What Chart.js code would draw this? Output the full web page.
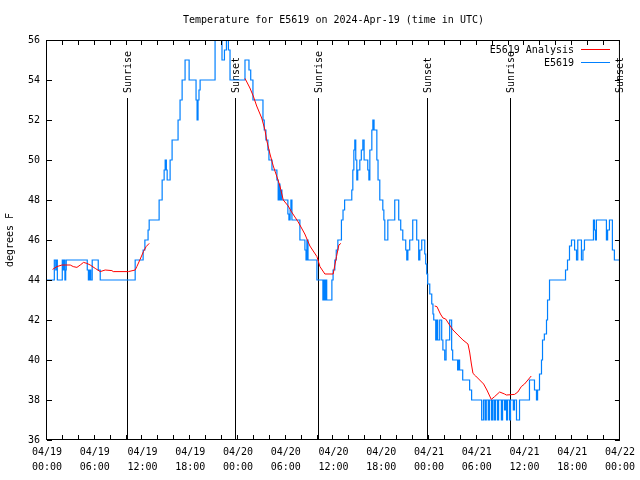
<!DOCTYPE html>
<html>
<head>
<meta charset="utf-8">
<script src="https://cdn.jsdelivr.net/npm/chart.js"></script>
<style>
  html, body { margin: 0; padding: 0; background: #fff; }
  canvas { display: block; }
</style>
</head>
<body>
<canvas id="temp-chart" width="640" height="480"></canvas>
<script>
const MONO = '"DejaVu Sans Mono", "Liberation Mono", monospace';

// time axis is hours since 04/19 00:00 UTC
const xTickLabels = [
  ['04/19', '00:00'], ['04/19', '06:00'], ['04/19', '12:00'], ['04/19', '18:00'],
  ['04/20', '00:00'], ['04/20', '06:00'], ['04/20', '12:00'], ['04/20', '18:00'],
  ['04/21', '00:00'], ['04/21', '06:00'], ['04/21', '12:00'], ['04/21', '18:00'],
  ['04/22', '00:00']
];

const sunTimes = [10.11, 23.66, 34.08, 47.75, 58.17, 71.84];
const sunLabels = ['Sunrise', 'Sunset', 'Sunrise', 'Sunset', 'Sunrise', 'Sunset'];

// E5619 station readings (value holds from each time to the next)
const sensorTimes = [
  0, 0.92, 1.1, 1.2, 1.3, 1.92, 2.05, 2.15, 2.25, 2.35, 2.42, 5.06, 5.2, 5.35, 5.5, 5.68, 6.44, 6.69,
  11.08, 12.08, 12.3, 12.7, 12.84, 14.09, 14.47, 14.72, 14.85, 15.0, 15.1, 15.47, 15.72, 16.47, 16.72,
  16.98, 17.35, 17.86, 18.73, 18.86, 18.98, 19.1, 19.24, 21.12, 21.99, 22.3, 22.55, 22.8, 23.0,
  24.88, 25.38, 25.6, 25.88, 27.14, 27.3, 27.51, 27.76, 27.89, 28.27, 28.89, 29.05, 29.14, 29.27,
  29.4, 29.52, 30.27, 30.4, 30.55, 30.65, 30.78, 31.78, 32.41, 32.55, 32.66, 32.8, 33.92, 34.67,
  34.8, 34.92, 35.05, 35.15, 35.8, 35.95, 36.17, 36.35, 36.55, 37.0, 37.2, 37.4, 38.3, 38.43, 38.56,
  38.68, 38.8, 38.93, 39.05, 39.31, 39.5, 39.69, 39.85, 40.31, 40.45, 40.57, 40.82, 40.95, 41.1,
  41.45, 41.6, 41.82, 42.2, 42.33, 42.45, 42.83, 43.7, 44.2, 44.45, 44.71, 45.08, 45.21, 45.35,
  45.58, 45.96, 46.46, 46.71, 46.85, 47.09, 47.47, 47.59, 47.72, 47.84, 48.1, 48.35, 48.5, 48.6,
  48.85, 49.0, 49.1, 49.35, 49.6, 49.75, 49.98, 50.15, 50.6, 50.85, 50.98, 51.6, 51.73, 51.85,
  52.24, 53.11, 53.36, 54.62, 54.85, 55.05, 55.2, 55.45, 55.6, 55.85, 56.0, 56.2, 56.35, 56.6,
  56.75, 57.1, 57.25, 57.5, 57.6, 57.75, 57.88, 58.13, 58.25, 58.6, 58.75,
  59.0, 59.38, 60.63, 61.26, 61.51, 61.65, 61.89, 62.14, 62.27, 62.5, 62.77, 62.9, 63.15, 65.16,
  65.41, 65.66, 65.91, 66.3, 66.54, 66.7, 67.16, 67.35, 67.54, 68.67, 68.8, 68.92, 69.04, 70.17,
  70.3, 70.45, 70.68, 71.05, 71.3, 71.93
];
const sensorTemps = [
  44, 45, 44.5, 45, 44, 45, 44.5, 45, 44, 44.5, 45, 44.5, 44, 44.5, 44, 45, 44.5, 44,
  45, 45.5, 46, 46.5, 47, 48, 49, 49.5, 50, 49.5, 49, 50, 51, 52, 53,
  54, 55, 54, 53, 52, 53, 53.5, 54, 57, 55, 55.5, 57, 55.5, 54,
  55, 54.5, 54, 53, 52, 51.5, 51, 50.5, 50, 49.5, 49, 48, 48.8, 48,
  48.5, 48, 47.3, 47, 47.5, 48, 47, 46, 45.5, 45, 46, 45, 44, 43,
  44, 43, 44, 43, 44, 44.5, 45, 45.5, 46, 47, 47.5, 48, 48.5, 49.5, 50.5,
  51, 50, 49, 49.5, 50, 50.5, 51, 50, 49.5, 49, 50.5, 51.5, 52, 51.5,
  50, 49, 48, 47.5, 47, 46, 47, 48, 47, 46.5, 46, 45.5, 45, 45.5,
  46, 47, 46, 45, 45.5, 46, 45.3, 44.8, 44.3, 43.8, 43.3, 42.8, 42.3, 42,
  41, 42, 41, 42, 41, 40.5, 40, 41, 42, 40.5, 40, 39.5, 40, 39.5,
  39, 38.5, 38, 37, 38, 37, 38, 37, 38, 37, 38, 37, 38, 37,
  38, 37, 38, 37.5, 38, 37, 38, 37, 38, 37.5, 38,
  37, 38, 39, 38.5, 38, 38.5, 39.3, 40, 41, 41.3, 42, 43, 44, 44.5,
  45, 45.7, 46, 45.5, 45, 46, 45, 45.5, 46, 47, 46.5, 46, 47, 47,
  46, 46.5, 47, 45.5, 45, 45
];

// E5619 Analysis (null = no analysis during that stretch)
const analysisTimes = [
  0.7, 1.25, 1.88, 2.92, 3.3, 3.76, 4.18, 4.59, 5.02, 5.43, 6.06, 6.69, 7.31, 8.16, 8.32, 10.24,
  11.08, 11.29, 11.7, 12.12, 12.46, 12.84,
  18,
  24.88, 25.5, 25.92, 26.35, 26.98, 27.39, 27.6, 28.02, 28.43, 28.86, 29.27, 29.69, 30.31, 30.74,
  31.57, 32.4, 33.04, 33.92, 34.3, 34.92, 35.96, 36.38, 36.68, 36.93,
  42,
  48.72, 49.0, 49.44, 49.76, 50.1, 50.51, 51.02, 51.64, 52.27, 52.9, 53.11, 53.33, 53.53, 53.87,
  54.37, 54.87, 55.28, 55.83, 56.25, 56.88, 57.5, 57.72, 58.76, 59.17, 59.6, 60.01, 60.43, 60.85
];
const analysisTemps = [
  44.53, 44.67, 44.75, 44.75, 44.67, 44.63, 44.75, 44.88, 44.83, 44.75, 44.58, 44.42, 44.5, 44.47, 44.42, 44.42,
  44.5, 44.67, 45.03, 45.42, 45.67, 45.83,
  null,
  54.08, 53.6, 53.2, 52.7, 52.1, 51.5, 51, 50.3, 49.7, 49.2, 48.7, 48, 47.7, 47.4,
  46.9, 46.3, 45.7, 45.17, 44.67, 44.3, 44.3, 45.17, 45.75, 45.83,
  null,
  42.7, 42.67, 42.3, 42.1, 42.05, 41.8, 41.5, 41.25, 41, 40.8, 40.4, 39.8, 39.33, 39.2,
  39, 38.8, 38.5, 38.03, 38.17, 38.4, 38.3, 38.25, 38.28, 38.4, 38.67, 38.8, 39, 39.2
];

const yTicks = [36, 38, 40, 42, 44, 46, 48, 50, 52, 54, 56];

const gnuplotFrame = {
  id: 'gnuplotFrame',
  beforeDatasetsDraw(chart) {
    const { ctx, chartArea: a, scales: { x } } = chart;
    ctx.save();
    ctx.strokeStyle = '#000';
    ctx.fillStyle = '#000';
    ctx.lineWidth = 1;
    ctx.font = '10px ' + MONO;
    sunTimes.forEach((t, i) => {
      const px = Math.round(x.getPixelForValue(t)) + 0.5;
      ctx.beginPath();
      ctx.moveTo(px, a.top + 58);
      ctx.lineTo(px, a.bottom);
      ctx.stroke();
      ctx.save();
      ctx.translate(px + 1, a.top + 53);
      ctx.rotate(-Math.PI / 2);
      ctx.textAlign = 'left';
      ctx.textBaseline = 'middle';
      ctx.fillText(sunLabels[i], 0, 0);
      ctx.restore();
    });
    ctx.restore();
  },
  afterDraw(chart) {
    const { ctx, chartArea: a, scales: { x, y } } = chart;
    ctx.save();
    ctx.strokeStyle = '#000';
    ctx.lineWidth = 1;
    ctx.strokeRect(a.left - 0.5, a.top + 0.5, a.right - a.left, a.bottom - a.top - 1);

    // inward ticks on all four sides
    ctx.beginPath();
    x.ticks.forEach(t => {
      const px = Math.round(x.getPixelForValue(t.value)) - 0.5;
      ctx.moveTo(px, a.bottom); ctx.lineTo(px, a.bottom - 5);
      ctx.moveTo(px, a.top); ctx.lineTo(px, a.top + 5);
    });
    y.ticks.forEach(t => {
      const py = Math.round(y.getPixelForValue(t.value)) + 0.5;
      ctx.moveTo(a.left, py); ctx.lineTo(a.left + 5, py);
      ctx.moveTo(a.right, py); ctx.lineTo(a.right - 5, py);
    });
    ctx.stroke();

    ctx.fillStyle = '#000';
    ctx.font = '10px ' + MONO;
    ctx.textAlign = 'center';
    ctx.textBaseline = 'middle';
    ctx.fillText('Temperature for E5619 on 2024-Apr-19 (time in UTC)', (a.left + a.right) / 2, 20);

    // key in the top right corner
    ctx.textAlign = 'right';
    chart.data.datasets.forEach((ds, i) => {
      const ly = 49.5 + i * 13;
      ctx.fillStyle = '#000';
      ctx.fillText(ds.label, 574, ly + 1);
      ctx.strokeStyle = ds.borderColor;
      ctx.beginPath();
      ctx.moveTo(581, ly);
      ctx.lineTo(610, ly);
      ctx.stroke();
    });
    ctx.restore();
  }
};

new Chart(document.getElementById('temp-chart'), {
  type: 'line',
  data: {
    datasets: [{
      label: 'E5619 Analysis',
      data: analysisTimes.map((t, i) => ({ x: t, y: analysisTemps[i] })),
      borderColor: '#ff0000',
      borderWidth: 1,
      pointRadius: 0,
      spanGaps: false
    }, {
      label: 'E5619',
      data: sensorTimes.map((t, i) => ({ x: t, y: sensorTemps[i] })),
      borderColor: '#0080ff',
      borderWidth: 1.2,
      pointRadius: 0,
      stepped: 'before'
    }]
  },
  options: {
    responsive: false,
    animation: false,
    events: [],
    layout: { padding: { top: 40, right: 19, bottom: 0, left: 0 } },
    plugins: {
      legend: { display: false },
      title: { display: false },
      tooltip: { enabled: false }
    },
    scales: {
      x: {
        type: 'linear',
        min: 0,
        max: 72,
        afterFit: s => { s.height = 40; },
        grid: { display: false, drawTicks: false },
        border: { display: false },
        ticks: {
          stepSize: 2,
          maxTicksLimit: 100,
          autoSkip: false,
          maxRotation: 0,
          padding: 5,
          color: '#000',
          font: { family: MONO, size: 10, lineHeight: 1.5 },
          callback: v => (v % 6 === 0 ? xTickLabels[v / 6] : '')
        }
      },
      y: {
        min: 36,
        max: 56,
        afterFit: s => { s.width = 47; },
        afterBuildTicks: s => { s.ticks = yTicks.map(v => ({ value: v })); },
        grid: { display: false, drawTicks: false },
        border: { display: false },
        ticks: {
          padding: 7,
          color: '#000',
          font: { family: MONO, size: 10 }
        },
        title: {
          display: true,
          text: 'degrees F',
          color: '#000',
          font: { family: MONO, size: 10 },
          padding: { top: 4, bottom: 0 }
        }
      }
    }
  },
  plugins: [gnuplotFrame]
});
</script>
</body>
</html>
